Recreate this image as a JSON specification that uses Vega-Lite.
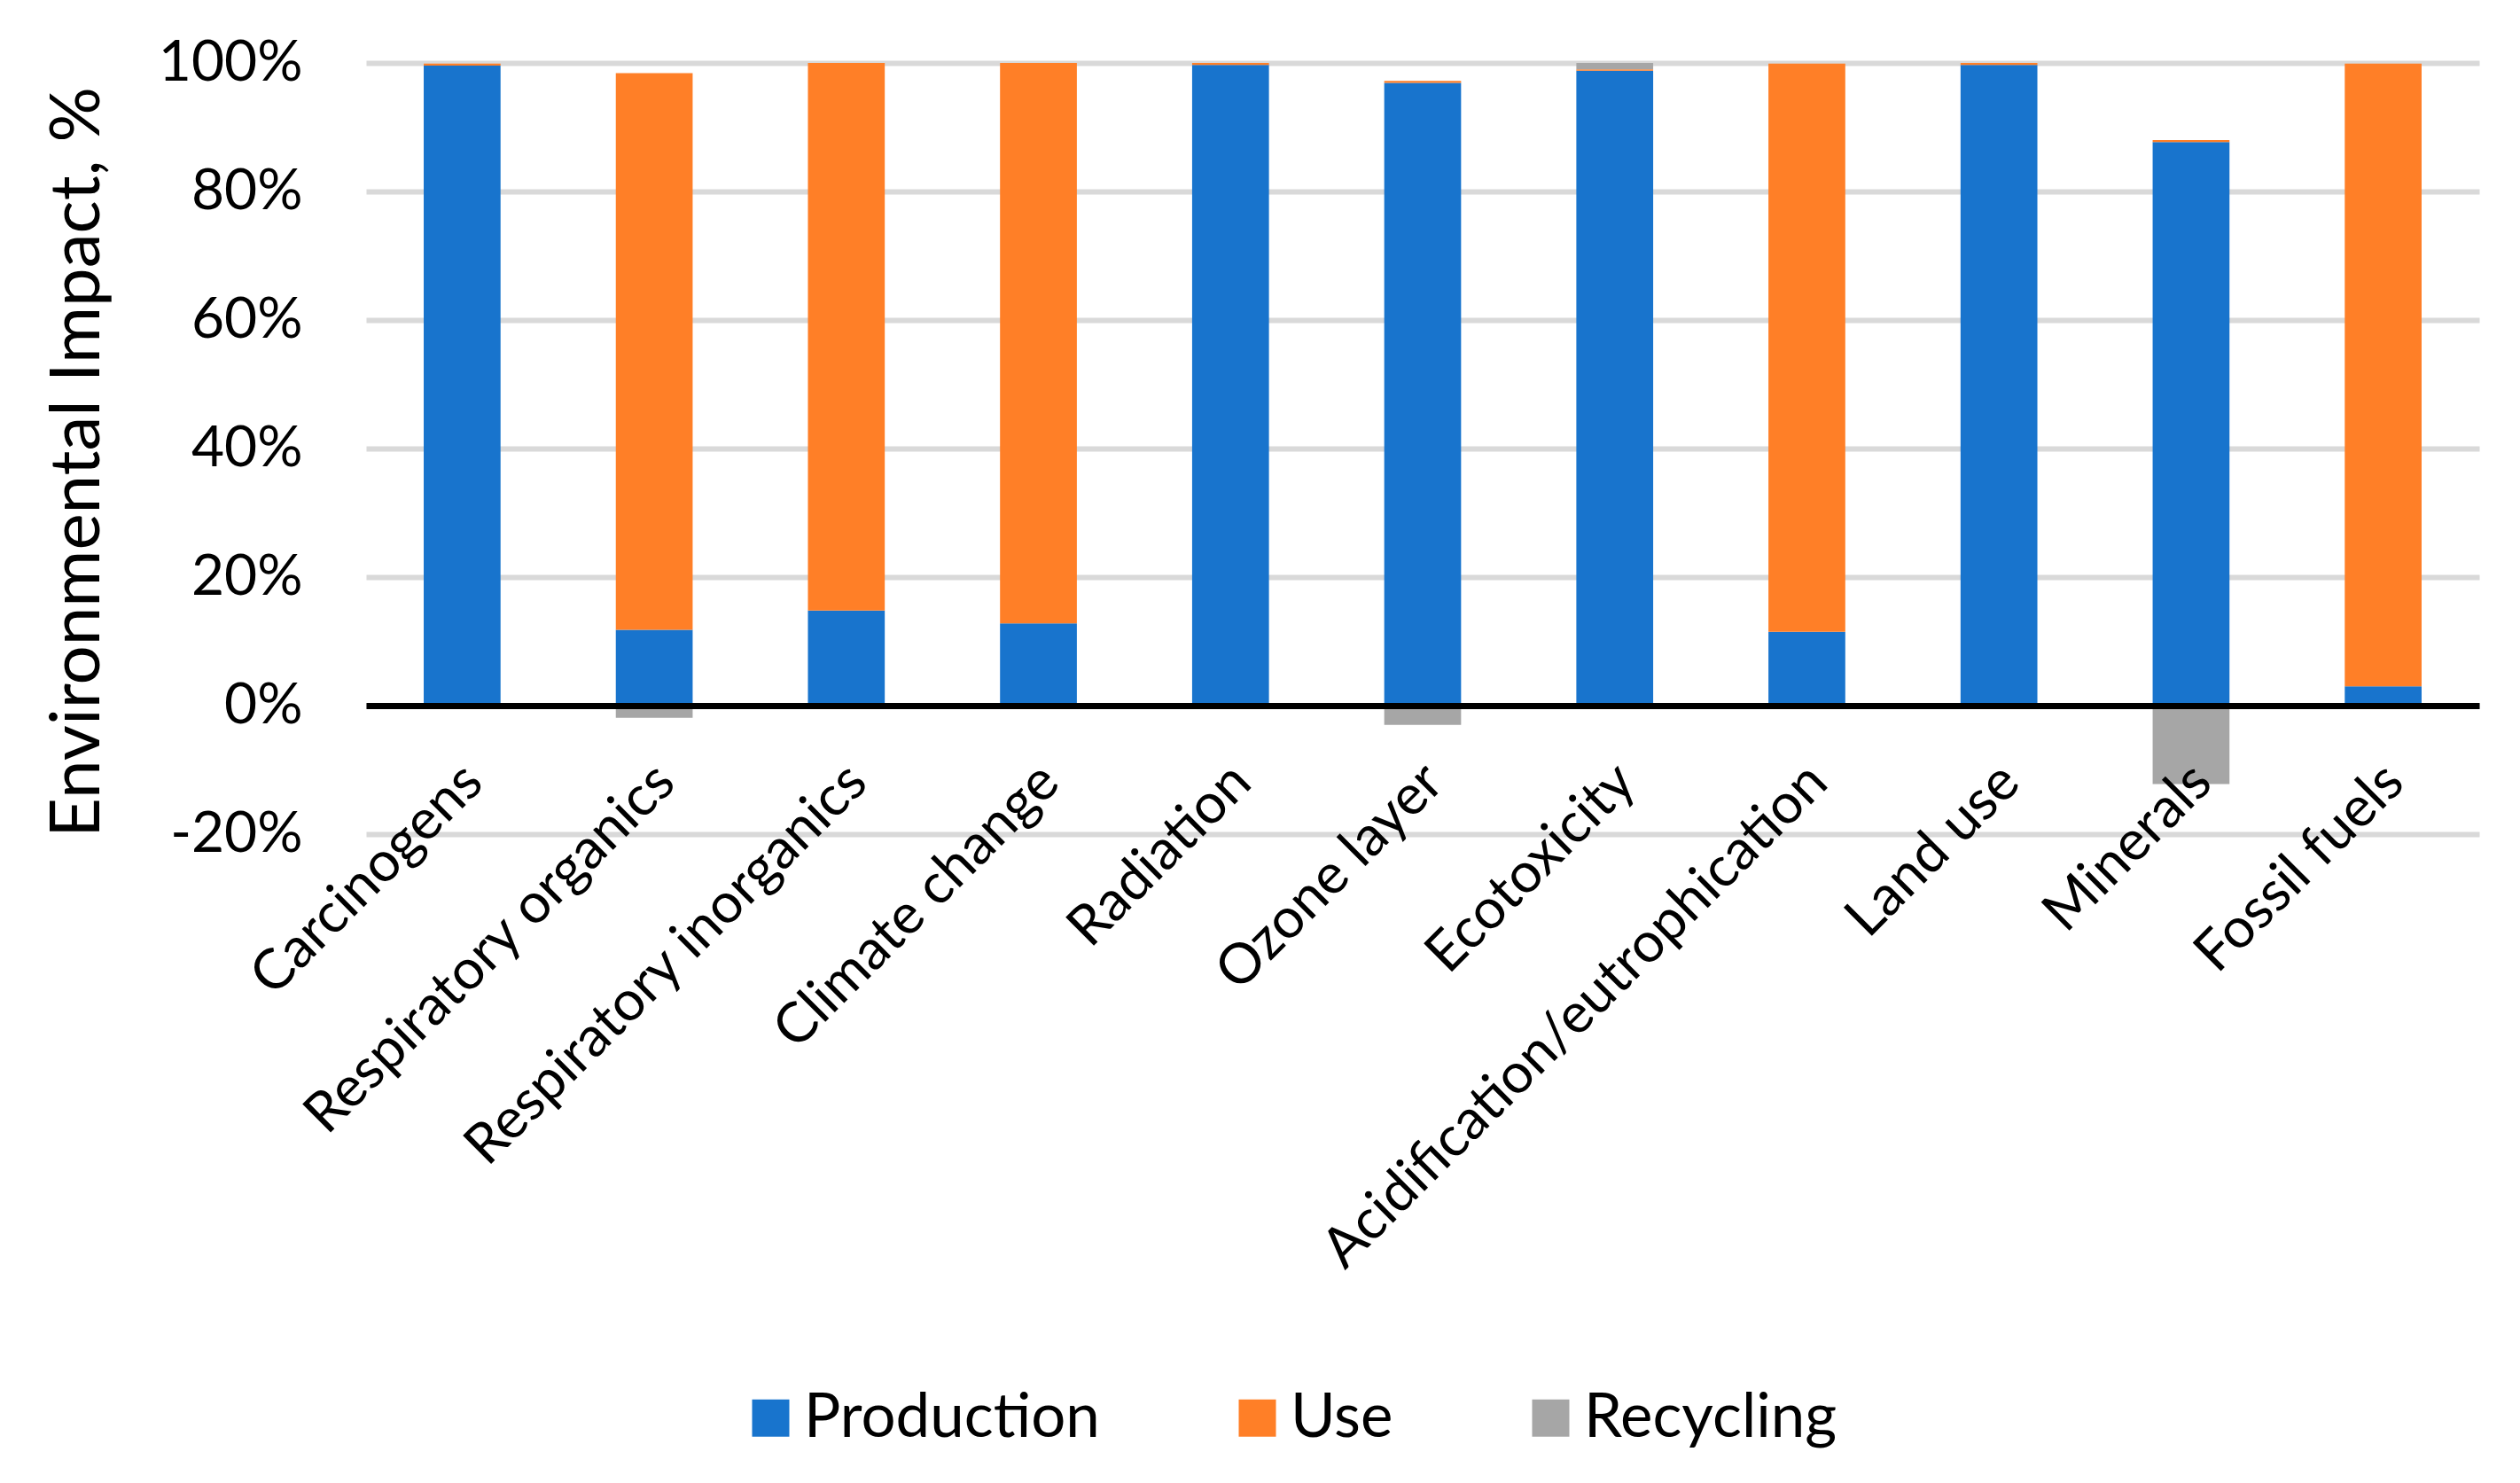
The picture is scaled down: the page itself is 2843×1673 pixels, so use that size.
{
  "$schema": "https://vega.github.io/schema/vega-lite/v6.json",
  "autosize": {"type": "none"},
  "padding": {"left": 413, "top": 71, "right": 46, "bottom": 732},
  "width": 2384,
  "height": 870,
  "background": "white",
  "config": {
    "view": {"stroke": null},
    "font": "Lato",
    "axis": {"labelFont": "Lato", "titleFont": "Lato", "labelColor": "black", "titleColor": "black", "titleFontWeight": "normal"},
    "legend": {"labelFont": "Lato", "labelColor": "black"}
  },
  "data": {
    "values": [
      {"category": "Carcinogens", "stage": "Production", "rank": 1, "value": 0.996},
      {"category": "Carcinogens", "stage": "Use", "rank": 2, "value": 0.003},
      {"category": "Respiratory organics", "stage": "Production", "rank": 1, "value": 0.118},
      {"category": "Respiratory organics", "stage": "Use", "rank": 2, "value": 0.866},
      {"category": "Respiratory organics", "stage": "Recycling", "rank": 3, "value": -0.019},
      {"category": "Respiratory inorganics", "stage": "Production", "rank": 1, "value": 0.148},
      {"category": "Respiratory inorganics", "stage": "Use", "rank": 2, "value": 0.852},
      {"category": "Climate change", "stage": "Production", "rank": 1, "value": 0.128},
      {"category": "Climate change", "stage": "Use", "rank": 2, "value": 0.872},
      {"category": "Radiation", "stage": "Production", "rank": 1, "value": 0.997},
      {"category": "Radiation", "stage": "Use", "rank": 2, "value": 0.003},
      {"category": "Ozone layer", "stage": "Production", "rank": 1, "value": 0.969},
      {"category": "Ozone layer", "stage": "Use", "rank": 2, "value": 0.003},
      {"category": "Ozone layer", "stage": "Recycling", "rank": 3, "value": -0.030},
      {"category": "Ecotoxicity", "stage": "Production", "rank": 1, "value": 0.988},
      {"category": "Ecotoxicity", "stage": "Use", "rank": 2, "value": 0.002},
      {"category": "Ecotoxicity", "stage": "Recycling", "rank": 3, "value": 0.010},
      {"category": "Acidification/eutrophication", "stage": "Production", "rank": 1, "value": 0.115},
      {"category": "Acidification/eutrophication", "stage": "Use", "rank": 2, "value": 0.884},
      {"category": "Land use", "stage": "Production", "rank": 1, "value": 0.997},
      {"category": "Land use", "stage": "Use", "rank": 2, "value": 0.003},
      {"category": "Minerals", "stage": "Production", "rank": 1, "value": 0.877},
      {"category": "Minerals", "stage": "Use", "rank": 2, "value": 0.003},
      {"category": "Minerals", "stage": "Recycling", "rank": 3, "value": -0.122},
      {"category": "Fossil fuels", "stage": "Production", "rank": 1, "value": 0.030},
      {"category": "Fossil fuels", "stage": "Use", "rank": 2, "value": 0.969}
    ]
  },
  "mark": {"type": "bar"},
  "encoding": {
    "x": {
      "field": "category",
      "type": "nominal",
      "sort": null,
      "scale": {"paddingInner": 0.6, "paddingOuter": 0.3},
      "axis": {
        "title": null,
        "offset": -145,
        "zindex": 1,
        "grid": false,
        "ticks": false,
        "domain": true,
        "domainColor": "black",
        "domainWidth": 7,
        "labelAngle": -45,
        "labelAlign": "right",
        "labelBaseline": "middle",
        "labelFontSize": 63,
        "labelPadding": 76,
        "labelOffset": 13,
        "labelOverlap": false,
        "labelLimit": 0
      }
    },
    "y": {
      "field": "value",
      "type": "quantitative",
      "stack": "zero",
      "scale": {"domain": [-0.2, 1.0], "nice": false, "zero": false},
      "axis": {
        "values": [-0.2, 0, 0.2, 0.4, 0.6, 0.8, 1.0],
        "format": ".0%",
        "labelExpr": "replace(datum.label, '\u2212', '-')",
        "title": "Environmental Impact, %",
        "titleFontSize": 78,
        "titleAngle": -90,
        "titleX": -325,
        "titleY": 450,
        "titleAlign": "center",
        "titleBaseline": "middle",
        "labelFontSize": 64,
        "labelPadding": 72,
        "ticks": false,
        "domain": false,
        "grid": true,
        "gridColor": "#d9d9d9",
        "gridWidth": 6
      }
    },
    "color": {
      "field": "stage",
      "type": "nominal",
      "scale": {"domain": ["Production", "Use", "Recycling"], "range": ["#1874cd", "#ff7f27", "#a6a6a6"]},
      "legend": {
        "title": null,
        "orient": "none",
        "legendX": 422,
        "legendY": 1494,
        "direction": "horizontal",
        "columns": 3,
        "symbolType": "square",
        "symbolSize": 1764,
        "symbolStrokeWidth": 0,
        "labelFontSize": 69,
        "labelOffset": 3,
        "columnPadding": 143,
        "labelLimit": 0
      }
    },
    "order": {"field": "rank", "type": "quantitative"}
  }
}
